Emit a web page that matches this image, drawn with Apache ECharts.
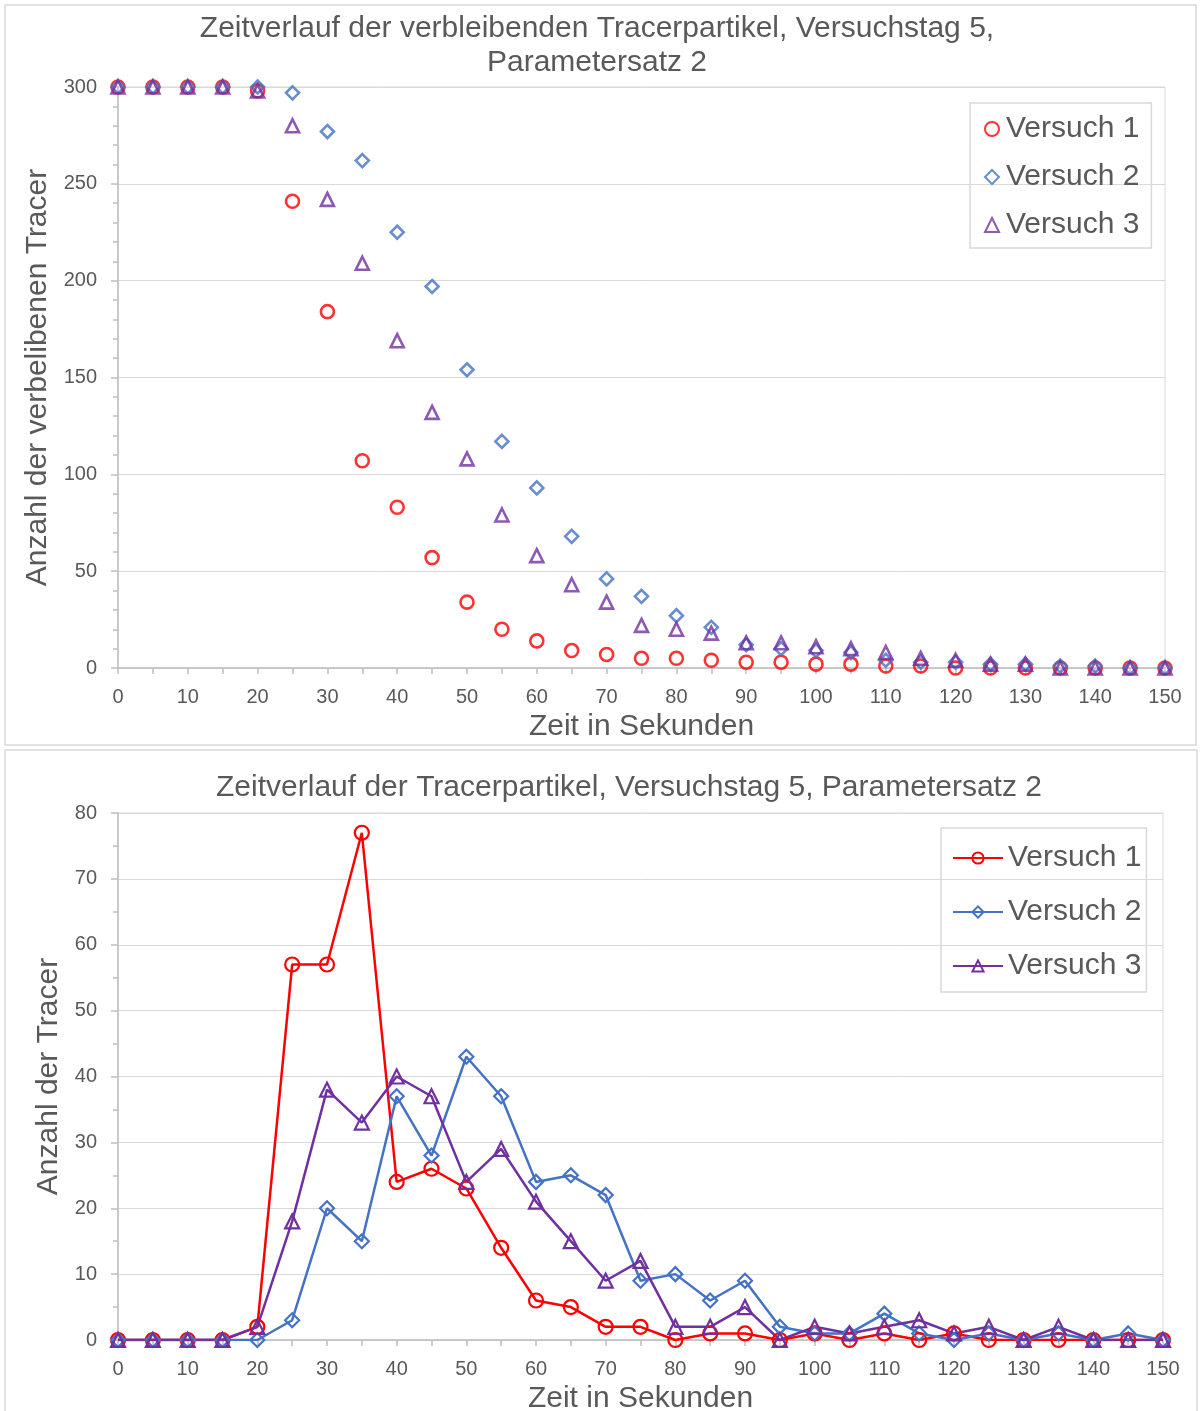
<!DOCTYPE html>
<html lang="de">
  <head>
    <meta charset="UTF-8" />
    <title>Zeitverlauf Tracerpartikel</title>
    <script src="https://cdn.jsdelivr.net/npm/echarts/dist/echarts.min.js"></script>
    <style>
      body { margin: 0; background: #fff; }
      #top { width: 1200px; height: 748px; }
      #bottom { width: 1200px; height: 663px; }
    </style>
  </head>
  <body>
    <div id="top"></div>
    <div id="bottom"></div>
    <script>
      // Zeit in Sekunden
      var zeit = [0, 5, 10, 15, 20, 25, 30, 35, 40, 45, 50, 55, 60, 65, 70, 75, 80, 85, 90, 95, 100, 105, 110, 115, 120, 125, 130, 135, 140, 145, 150];

      // verbleibende Tracer (oberes Diagramm)
      var rest1 = [300, 300, 300, 300, 298, 241, 184, 107, 83, 57, 34, 20, 14, 9, 7, 5, 5, 4, 3, 3, 2, 2, 1, 1, 0, 0, 0, 0, 0, 0, 0];
      var rest2 = [300, 300, 300, 300, 300, 297, 277, 262, 225, 197, 154, 117, 93, 68, 46, 37, 27, 21, 12, 10, 9, 8, 4, 3, 3, 2, 2, 1, 1, 0, 0];
      var rest3 = [300, 300, 300, 300, 298, 280, 242, 209, 169, 132, 108, 79, 58, 43, 34, 22, 20, 18, 13, 13, 11, 10, 8, 5, 4, 2, 2, 0, 0, 0, 0];

      // Tracer pro Intervall (unteres Diagramm)
      var anzahl1 = [0, 0, 0, 0, 2, 57, 57, 77, 24, 26, 23, 14, 6, 5, 2, 2, 0, 1, 1, 0, 1, 0, 1, 0, 1, 0, 0, 0, 0, 0, 0];
      var anzahl2 = [0, 0, 0, 0, 0, 3, 20, 15, 37, 28, 43, 37, 24, 25, 22, 9, 10, 6, 9, 2, 1, 1, 4, 1, 0, 1, 0, 1, 0, 1, 0];
      var anzahl3 = [0, 0, 0, 0, 2, 18, 38, 33, 40, 37, 24, 29, 21, 15, 9, 12, 2, 2, 5, 0, 2, 1, 2, 3, 1, 2, 0, 2, 0, 0, 0];

      var namen = ["Versuch 1", "Versuch 2", "Versuch 3"];
      var farben = ["#ff0000", "#4472c4", "#7030a0"];
      var symbole = ["circle", "diamond", "triangle"];

      var FONT = "'Liberation Sans', Arial, sans-serif";
      var TEXT = "#595959";
      var AXIS = "#bfbfbf";
      var GRIDLINE = "#d9d9d9";

      function paare(werte) {
        return zeit.map(function (t, i) { return [t, werte[i]]; });
      }

      function xAchse(gap) {
        return {
          type: "value",
          min: 0,
          max: 150,
          interval: 10,
          name: "Zeit in Sekunden",
          nameLocation: "middle",
          nameGap: gap,
          nameTextStyle: { color: TEXT, fontSize: 30, fontFamily: FONT },
          axisLine: { show: true, lineStyle: { color: AXIS, width: 1.5 } },
          axisTick: { show: true, length: 6, lineStyle: { color: AXIS, width: 1.5 } },
          minorTick: { show: true, splitNumber: 2, length: 6, lineStyle: { color: AXIS, width: 1.5 } },
          axisLabel: { color: TEXT, fontSize: 20, fontFamily: FONT, margin: 19 },
          splitLine: { show: false }
        };
      }

      function yAchse(name, max, interval, minor, gap) {
        return {
          type: "value",
          min: 0,
          max: max,
          interval: interval,
          name: name,
          nameLocation: "middle",
          nameGap: gap,
          nameTextStyle: { color: TEXT, fontSize: 30, fontFamily: FONT },
          axisLine: { show: true, lineStyle: { color: AXIS, width: 1.5 } },
          axisTick: { show: true, length: 7, lineStyle: { color: AXIS, width: 1.5 } },
          minorTick: { show: true, splitNumber: minor, length: 5, lineStyle: { color: AXIS, width: 1.5 } },
          axisLabel: { color: TEXT, fontSize: 20, fontFamily: FONT, margin: 21 },
          splitLine: { show: true, lineStyle: { color: GRIDLINE, width: 1 } }
        };
      }

      // ---------- oberes Diagramm: Punkte ----------
      var chartOben = echarts.init(document.getElementById("top"));
      var reste = [rest1, rest2, rest3];

      chartOben.setOption({
        animation: false,
        graphic: [
          { type: "rect", shape: { x: 5, y: 5, width: 1191, height: 740 }, style: { fill: "none", stroke: GRIDLINE, lineWidth: 1.5 } },
          { type: "text", x: 597, y: 29, style: { text: "Zeitverlauf der verbleibenden Tracerpartikel, Versuchstag 5,", fill: TEXT, font: "30px " + FONT, textAlign: "center", textVerticalAlign: "middle" } },
          { type: "text", x: 597, y: 63, style: { text: "Parametersatz 2", fill: TEXT, font: "30px " + FONT, textAlign: "center", textVerticalAlign: "middle" } }
        ],
        grid: { left: 118, right: 35, top: 87, bottom: 80, show: true, borderColor: GRIDLINE, borderWidth: 1, outerBoundsMode: "none" },
        xAxis: xAchse(41),
        yAxis: yAchse("Anzahl der verbelibenen Tracer", 300, 50, 5, 63),
        legend: {
          orient: "vertical",
          left: 970,
          top: 103,
          padding: [11, 12, 8, 14],
          itemGap: 18,
          itemWidth: 14,
          itemHeight: 14,
          borderColor: GRIDLINE,
          borderWidth: 1.5,
          textStyle: { color: TEXT, fontSize: 30, fontFamily: FONT, lineHeight: 30, padding: [0, 0, 0, 2] },
          data: namen
        },
        series: namen.map(function (n, i) {
          return {
            name: n,
            type: "scatter",
            data: paare(reste[i]),
            symbol: symbole[i],
            symbolSize: 13,
            itemStyle: { color: "transparent", borderColor: farben[i], borderWidth: 2.6 }
          };
        })
      });

      // ---------- unteres Diagramm: Linien ----------
      var chartUnten = echarts.init(document.getElementById("bottom"));
      var anzahlen = [anzahl1, anzahl2, anzahl3];

      chartUnten.setOption({
        animation: false,
        graphic: [
          { type: "rect", shape: { x: 5, y: 2, width: 1192, height: 670 }, style: { fill: "none", stroke: GRIDLINE, lineWidth: 1.5 } },
          { type: "text", x: 629, y: 40, style: { text: "Zeitverlauf der Tracerpartikel, Versuchstag 5, Parametersatz 2", fill: TEXT, font: "30px " + FONT, textAlign: "center", textVerticalAlign: "middle" } }
        ],
        grid: { left: 118, right: 37, top: 65, bottom: 71, show: true, borderColor: GRIDLINE, borderWidth: 1, outerBoundsMode: "none" },
        xAxis: xAchse(41),
        yAxis: yAchse("Anzahl der Tracer", 80, 10, 2, 53),
        legend: {
          orient: "vertical",
          left: 941,
          top: 80,
          padding: [15, 5, 11, 11],
          itemGap: 24,
          itemWidth: 50,
          itemHeight: 14,
          borderColor: GRIDLINE,
          borderWidth: 1.5,
          textStyle: { color: TEXT, fontSize: 30, fontFamily: FONT, lineHeight: 30, padding: [0, 0, 0, 0] },
          data: namen
        },
        series: namen.map(function (n, i) {
          return {
            name: n,
            type: "line",
            data: paare(anzahlen[i]),
            symbol: symbole[i],
            symbolSize: 14,
            showAllSymbol: true,
            lineStyle: { color: farben[i], width: 2.5 },
            itemStyle: { color: "transparent", borderColor: farben[i], borderWidth: 2.2 }
          };
        })
      });
    </script>
  </body>
</html>
